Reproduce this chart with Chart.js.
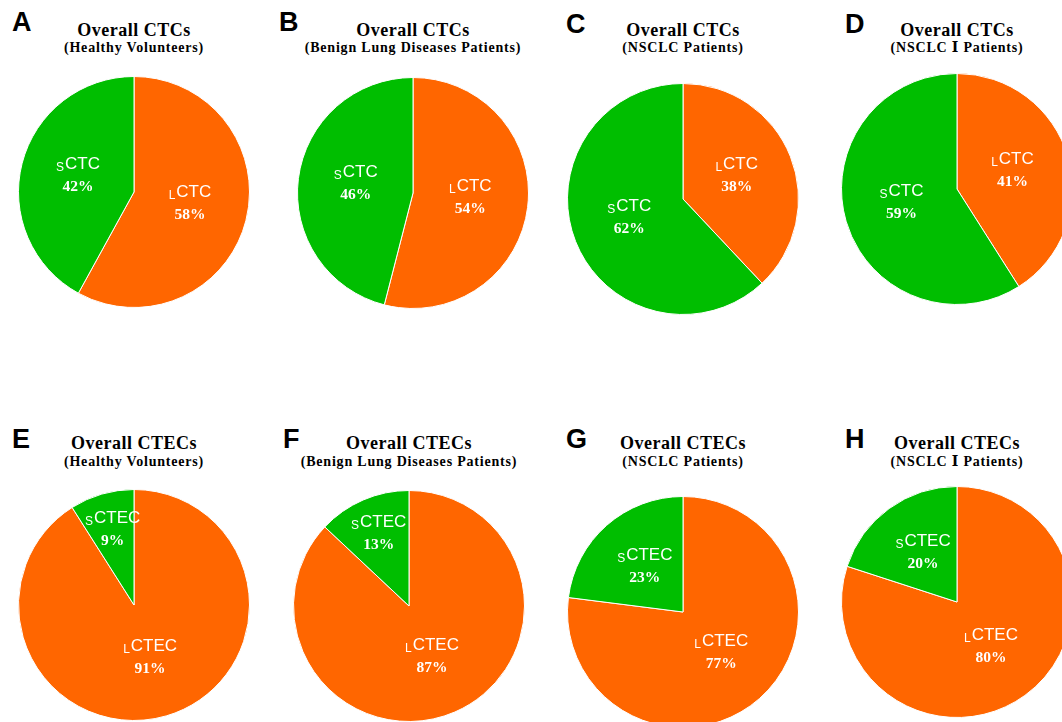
<!DOCTYPE html>
<html>
<head>
<meta charset="utf-8">
<script src="https://cdn.jsdelivr.net/npm/chart.js@4.4.1/dist/chart.umd.min.js"></script>
<style>
  html, body { margin: 0; padding: 0; background: #fff; overflow: hidden; }
  body { width: 1062px; height: 722px; position: relative; }
  .letter { position: absolute; font: bold 27px "Liberation Sans", Arial, sans-serif; line-height: 27px; color: #000; }
  .title, .sub { position: absolute; width: 300px; text-align: center; white-space: nowrap; color: #000;
    font-family: "Liberation Serif", "Times New Roman", "DejaVu Serif", serif; font-weight: bold; }
  .title { font-size: 18px; line-height: 18px; letter-spacing: 0.5px; }
  .sub { font-size: 14px; line-height: 14px; letter-spacing: 0.8px; }
  canvas { position: absolute; }
</style>
</head>
<body>
<script>
const panelLetters = ["A", "B", "C", "D", "E", "F", "G", "H"];
const groups = ["(Healthy Volunteers)", "(Benign Lung Diseases Patients)", "(NSCLC Patients)", "(NSCLC \u2160 Patients)"];
const ctcTitle = "Overall CTCs";
const ctecTitle = "Overall CTECs";
const ctcCategories = ["LCTC", "SCTC"];
const ctecCategories = ["LCTEC", "SCTEC"];

// percentages
const ctcLarge = [58, 54, 38, 41];
const ctcSmall = [42, 46, 62, 59];
const ctecLarge = [91, 87, 77, 80];
const ctecSmall = [9, 13, 23, 20];

const ORANGE = "#ff6600";
const GREEN = "#00be00";

// pie centres on the page, and where the title block sits
const centers = [[134, 192], [413, 193], [683, 199], [957, 189],
                 [134, 605], [409, 606], [683, 612], [957, 602]];
const letterPos = [[12, 9], [279, 9], [566, 11], [845, 11],
                   [12, 426], [283, 426], [566, 426], [845, 426]];
const titleRows = [[36, 53], [449, 467]];
const R = 116;

const sliceLabels = {
  id: "sliceLabels",
  afterDatasetsDraw(chart) {
    const ctx = chart.ctx;
    const ds = chart.data.datasets[0];
    const total = ds.data.reduce((a, b) => a + b, 0);
    chart.getDatasetMeta(0).data.forEach((arc, i) => {
      const p = arc.getProps(["x", "y", "startAngle", "endAngle", "outerRadius"], true);
      const mid = (p.startAngle + p.endAngle) / 2;
      const f = ds.data[i] / total < 0.15 ? 0.66 : 0.5;
      const cx = p.x + Math.cos(mid) * p.outerRadius * f;
      const cy = p.y + Math.sin(mid) * p.outerRadius * f - 3;
      const name = chart.data.labels[i];
      const sub = name.charAt(0), main = name.slice(1);
      ctx.save();
      ctx.fillStyle = "#fff";
      ctx.textBaseline = "alphabetic";
      ctx.textAlign = "left";
      ctx.font = '12px "Liberation Sans", Arial, sans-serif';
      const ws = ctx.measureText(sub).width;
      ctx.font = '17px "Liberation Sans", Arial, sans-serif';
      const wm = ctx.measureText(main).width;
      const x0 = cx - (ws + wm + 1) / 2;
      ctx.font = '12px "Liberation Sans", Arial, sans-serif';
      ctx.fillText(sub, x0, cy - 4);
      ctx.font = '17px "Liberation Sans", Arial, sans-serif';
      ctx.fillText(main, x0 + ws + 1, cy - 6);
      ctx.font = 'bold 15.5px "Liberation Serif", "Times New Roman", serif';
      ctx.textAlign = "center";
      ctx.fillText(ds.data[i] + "%", cx, cy + 16);
      ctx.restore();
    });
  }
};

function addText(cls, text, left, top) {
  const d = document.createElement("div");
  d.className = cls;
  d.textContent = text;
  d.style.left = left + "px";
  d.style.top = top + "px";
  document.body.appendChild(d);
}

for (let k = 0; k < 8; k++) {
  const row = k < 4 ? 0 : 1;
  const col = k % 4;
  const [cx, cy] = centers[k];
  const title = row === 0 ? ctcTitle : ctecTitle;
  const labels = row === 0 ? ctcCategories : ctecCategories;
  const values = row === 0 ? [ctcLarge[col], ctcSmall[col]] : [ctecLarge[col], ctecSmall[col]];

  addText("letter", panelLetters[k], letterPos[k][0], letterPos[k][1]);
  addText("title", title, cx - 150, titleRows[row][0] - 15);
  addText("sub", groups[col], cx - 150, titleRows[row][1] - 12);

  const canvas = document.createElement("canvas");
  canvas.width = 2 * R;
  canvas.height = 2 * R;
  canvas.style.left = (cx - R) + "px";
  canvas.style.top = (cy - R) + "px";
  document.body.appendChild(canvas);

  new Chart(canvas.getContext("2d"), {
    type: "pie",
    data: {
      labels: labels,
      datasets: [{
        data: values,
        backgroundColor: [ORANGE, GREEN],
        borderColor: "#ffffff",
        borderWidth: 1
      }]
    },
    options: {
      responsive: false,
      animation: false,
      layout: { padding: 0 },
      plugins: { legend: { display: false }, tooltip: { enabled: false }, title: { display: false } }
    },
    plugins: [sliceLabels]
  });
}
</script>
</body>
</html>
